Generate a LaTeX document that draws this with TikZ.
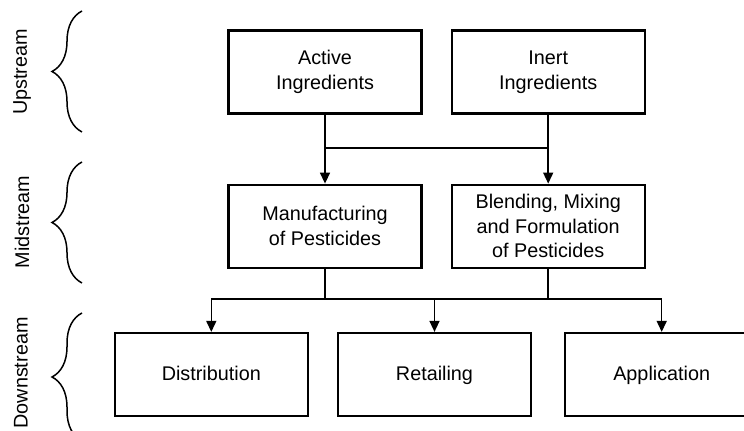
\documentclass[tikz,border=0pt]{standalone}
\usepackage{fontspec}
\setmainfont{Liberation Sans}
\usepackage{tikz}
\usetikzlibrary{shapes,arrows.meta,positioning,decorations.pathreplacing}

\begin{document}
\begin{tikzpicture}[x=0.5pt, y=-0.5pt, node distance=34.5pt and 14pt,
    font=\fontsize{9.9}{12.3}\selectfont,
    box/.style={rectangle, draw, line width=1.1pt, minimum width=96.5pt, minimum height=41.5pt, align=center, inner sep=0pt},
    onebox/.style={box, text height=1.6ex, text depth=0.5ex},
    link/.style={line width=0.75pt},
    >={Triangle[length=5.5pt,width=5pt]}]
    \useasboundingbox (0,0) rectangle (744,431);

    \node[box] (active) at (325,72) {Active\\Ingredients};
    \node[box, right=of active] (inert) {Inert\\Ingredients};
    \node[box, below=of active] (manuf) {Manufacturing\\of Pesticides};
    \node[box, below=of inert] (blend) {Blending, Mixing\\and Formulation\\of Pesticides};
    \node[onebox] (retail) at (434.5,374.5) {Retailing};
    \node[onebox, left=14pt of retail] (distr) {Distribution};
    \node[onebox, right=16pt of retail] (appl) {Application};

    \coordinate (topjoin) at (436,148);
    \coordinate (botjoin) at (436,299);

    \draw[link] (active.south) |- (topjoin) -| (inert.south);
    \draw[link, ->] (active.south) -- (manuf.north);
    \draw[link, ->] (inert.south) -- (blend.north);

    \draw[link] (manuf.south) |- (botjoin) -| (blend.south);
    \draw[link] (distr.north |- botjoin) -- (appl.north |- botjoin);
    \draw[link, ->] (distr.north |- botjoin) -- (distr.north);
    \draw[link, ->] (retail.north |- botjoin) -- (retail.north);
    \draw[link, ->] (appl.north |- botjoin) -- (appl.north);

    % stage braces
    \node[rotate=90] (uplbl) at (22,72) {Upstream};
    \node[rotate=90] (midlbl) at (22,222) {Midstream};
    \node[rotate=90] (downlbl) at (21,373) {Downstream};
    \draw[link, decorate, decoration={brace, amplitude=15pt}] (82,132) -- (82,11);
    \draw[link, decorate, decoration={brace, amplitude=15pt}] (82,283) -- (82,162);
    \draw[link, decorate, decoration={brace, amplitude=15pt}] (82,441) -- (82,313);
\end{tikzpicture}
\end{document}
